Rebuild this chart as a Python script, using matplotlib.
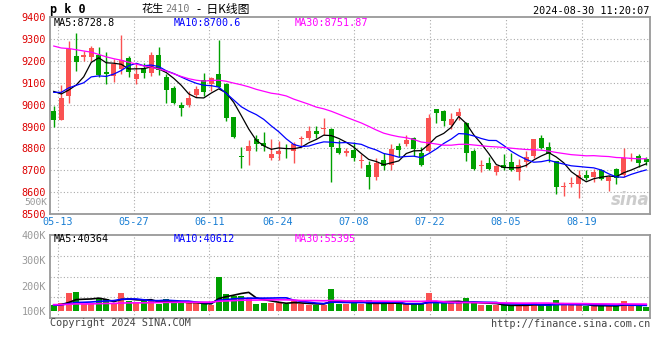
import numpy as np
import matplotlib
matplotlib.use('Agg')
import matplotlib.pyplot as plt

# daily bars, 2024-05-10 .. 2024-08-30 (80 trading days)
opens = [8973, 8930, 9041, 9224, 9216, 9219, 9228, 9149, 9133, 9163,
         9213, 9117, 9168, 9143, 9227, 9125, 9076, 8999, 8999, 9044,
         9114, 9095, 9140, 9095, 8942, 8766, 8786, 8842, 8825, 8757,
         8772, 8802, 8790, 8842, 8846, 8878, 8888, 8889, 8801, 8778,
         8793, 8744, 8725, 8668, 8749, 8726, 8811, 8818, 8848, 8778,
         8787, 8980, 8970, 8909, 8947, 8915, 8786, 8717, 8734, 8691,
         8722, 8737, 8691, 8737, 8763, 8848, 8808, 8741, 8623, 8638,
         8638, 8679, 8668, 8702, 8650, 8705, 8676, 8752, 8767, 8752]
highs = [8996, 9090, 9292, 9330, 9244, 9270, 9265, 9239, 9209, 9318,
         9224, 9186, 9193, 9239, 9265, 9140, 9087, 9011, 9061, 9087,
         9143, 9125, 9295, 9098, 8942, 8808, 8837, 8862, 8874, 8843,
         8833, 8821, 8828, 8856, 8901, 8901, 8938, 8892, 8839, 8802,
         8828, 8772, 8744, 8757, 8778, 8821, 8825, 8859, 8851, 8808,
         8958, 8980, 8976, 8961, 8985, 8919, 8798, 8748, 8760, 8726,
         8775, 8778, 8752, 8790, 8843, 8859, 8828, 8744, 8646, 8671,
         8702, 8699, 8706, 8706, 8679, 8711, 8801, 8780, 8775, 8760]
lows = [8900, 8930, 9006, 9152, 9201, 9201, 9125, 9095, 9102, 9140,
        9125, 9095, 9122, 9133, 9136, 9006, 9003, 8950, 8991, 9037,
        9038, 9061, 9076, 8927, 8848, 8711, 8726, 8786, 8790, 8748,
        8749, 8757, 8732, 8805, 8840, 8848, 8863, 8646, 8775, 8764,
        8744, 8711, 8612, 8656, 8699, 8702, 8760, 8810, 8763, 8717,
        8783, 8918, 8904, 8889, 8932, 8744, 8699, 8691, 8703, 8680,
        8702, 8696, 8656, 8714, 8757, 8795, 8737, 8589, 8580, 8623,
        8571, 8653, 8646, 8653, 8607, 8635, 8668, 8741, 8714, 8722]
closes = [8930, 9031, 9254, 9196, 9228, 9259, 9136, 9140, 9186, 9204,
          9151, 9140, 9143, 9227, 9158, 9067, 9008, 8983, 9031, 9072,
          9060, 9120, 9079, 8939, 8854, 8760, 8810, 8821, 8813, 8775,
          8790, 8796, 8818, 8846, 8878, 8866, 8894, 8808, 8781, 8790,
          8755, 8749, 8671, 8734, 8717, 8798, 8793, 8840, 8795, 8722,
          8939, 8964, 8923, 8935, 8968, 8778, 8706, 8722, 8706, 8719,
          8711, 8699, 8722, 8760, 8843, 8802, 8775, 8623, 8626, 8641,
          8679, 8665, 8694, 8661, 8668, 8664, 8755, 8757, 8734, 8737]
volumes = [124000, 130000, 172000, 176000, 129000, 129000, 146000, 146000, 133000, 172000,
           139000, 130000, 139000, 142000, 129000, 146000, 130000, 130000, 130000, 130000,
           126000, 124000, 234000, 168000, 159000, 159000, 146000, 126000, 133000, 133000,
           133000, 126000, 139000, 126000, 124000, 124000, 124000, 185000, 126000, 126000,
           130000, 126000, 142000, 126000, 126000, 133000, 126000, 126000, 126000, 126000,
           170000, 130000, 130000, 130000, 130000, 150000, 130000, 122000, 122000, 122000,
           124000, 120000, 122000, 122000, 133000, 122000, 122000, 142000, 122000, 122000,
           122000, 120000, 120000, 120000, 120000, 120000, 138000, 120000, 120000, 116000]

# estimated closes/volumes of the 29 sessions before the window (only seed the MAs)
earlier_close = [9300, 9330, 9360, 9400, 9420, 9450, 9470, 9440, 9410, 9430,
                 9400, 9380, 9420, 9390, 9360, 9380, 9350, 9340, 9280, 9180,
                 9030, 9050, 9080, 9110, 8990, 9090, 9164, 9080, 9040]
earlier_volume = [128000, 132000, 125000, 140000, 122000, 118000, 126000, 131000, 124000, 119000,
                  127000, 135000, 121000, 117000, 123000, 129000, 120000, 126000, 133000, 122000,
                  118000, 125000, 130000, 121000, 116000, 124000, 128000, 119000, 122000]

tick_labels = ['05-13', '05-27', '06-11', '06-24', '07-08', '07-22', '08-05', '08-19']
tick_idx = [1, 11, 21, 30, 40, 50, 60, 70]
price_ticks = [8500, 8600, 8700, 8800, 8900, 9000, 9100, 9200, 9300, 9400]
vol_ticks = [100000, 200000, 300000, 400000]
vol_tick_labels = ['100K', '200K', '300K', '400K']

RED = '#fa5252'
GREEN = '#00a000'
GRID = '#aaaaaa'
MONO = 'DejaVu Sans Mono'
W, H = 660, 360


def ma(values, earlier, n):
    s = np.array(earlier + values, dtype=float)
    out = np.convolve(s, np.ones(n) / n, mode='valid')
    return out[-len(values):]


def rect(l, t, r, b):
    return [l / W, 1 - b / H, (r - l) / W, (b - t) / H]


def px(x, y):
    return x / W, 1 - y / H


n = len(closes)
x = np.arange(n)
colors = [RED if c >= o else GREEN for o, c in zip(opens, closes)]
gx = [-0.5 + k * n / (n - 1) for k in tick_idx]   # sina puts date lines on a slightly wider grid

fig = plt.figure(figsize=(6.6, 3.6), dpi=100)
ax = fig.add_axes(rect(50, 17.3, 650, 213.9))
axv = fig.add_axes(rect(50, 235, 650, 318))

# price panel
for i in range(n):
    ax.vlines(x[i], lows[i], highs[i], color=colors[i], lw=1, zorder=3)
body = [max(abs(c - o), 4) for o, c in zip(opens, closes)]
ax.bar(x, body, bottom=np.minimum(opens, closes), width=0.68, color=colors, zorder=3)
ax.plot(x, ma(closes, earlier_close, 5), color='black', lw=0.9, zorder=4)
ax.plot(x, ma(closes, earlier_close, 10), color='#0000ff', lw=0.9, zorder=4)
ax.plot(x, ma(closes, earlier_close, 30), color='#ff00ff', lw=0.9, zorder=4)

ax.set_xlim(-0.5, n - 0.5)
ax.set_ylim(8500, 9400)
ax.set_yticks(price_ticks)
ax.set_yticklabels([str(p) for p in price_ticks], color='#dd0000', family=MONO, fontsize=7.3)
ax.set_xticks(gx)
ax.set_xticklabels(tick_labels, color='#1a7fd4', family=MONO, fontsize=7.3)
ax.tick_params(length=0, pad=3)
ax.tick_params(axis='x', pad=2)
for p in price_ticks[1:-1]:
    ax.axhline(p, color=GRID, lw=0.8, ls=(0, (1, 2)), zorder=1)
for g in gx:
    ax.axvline(g, color=GRID, lw=0.8, ls=(0, (1, 2)), zorder=1)
for s in ax.spines.values():
    s.set_color('#999999')
    s.set_linewidth(1.3)
ax.text(1.0, 0.07, 'sina', transform=ax.transAxes, ha='right', va='center',
        fontsize=12, fontweight='bold', fontstyle='italic', color='#cccccc', zorder=2)

# volume panel
vol_floor = 100000
vol_lo, vol_hi = 72000, 400000
axv.bar(x, np.array(volumes) - vol_floor, bottom=vol_floor, width=0.75, color=colors, zorder=3)
axv.plot(x, ma(volumes, earlier_volume, 5), color='black', lw=1.2, zorder=4)
axv.plot(x, ma(volumes, earlier_volume, 10), color='#0000ff', lw=1.2, zorder=4)
axv.plot(x, ma(volumes, earlier_volume, 30), color='#ff00ff', lw=1.2, zorder=4)
axv.set_xlim(-0.5, n - 0.5)
axv.set_ylim(vol_lo, vol_hi)
axv.set_yticks(vol_ticks)
axv.set_yticklabels(vol_tick_labels, color='#999999', family=MONO, fontsize=7.3)
axv.set_xticks(gx)
axv.set_xticklabels([])
axv.tick_params(length=0, pad=3)
for f in (0.25, 0.5, 0.75):
    axv.axhline(vol_lo + f * (vol_hi - vol_lo), color=GRID, lw=0.8, ls=(0, (1, 2)), zorder=1)
for g in gx:
    axv.axvline(g, color=GRID, lw=0.8, ls=(0, (1, 2)), zorder=1)
for s in axv.spines.values():
    s.set_color('#999999')
    s.set_linewidth(1.3)

# texts
fs = 7.3
fig.text(*px(50, 9), 'p k 0', family=MONO, fontsize=8.5, fontweight='bold', va='center')
cjk = ['Noto Sans CJK SC', 'DejaVu Sans']
fig.text(*px(141, 9), '花生', family=cjk, fontsize=8, va='center')
fig.text(*px(165, 9.5), '2410', family=MONO, fontsize=7.3, color='#777777', va='center')
fig.text(*px(197, 9), '-  日K线图', family=cjk, fontsize=8.5, va='center')
fig.text(*px(649, 11.5), '2024-08-30 11:20:07', family=MONO, fontsize=fs, ha='right', va='center')
fig.text(*px(54, 23.5), 'MA5:8728.8', family=MONO, fontsize=fs, va='center')
fig.text(*px(174, 23.5), 'MA10:8700.6', family=MONO, fontsize=fs, color='#0000ff', va='center')
fig.text(*px(295, 23.5), 'MA30:8751.87', family=MONO, fontsize=fs, color='#ff00ff', va='center')
fig.text(*px(47, 202.5), '500K', family=MONO, fontsize=6.8, color='#999999', ha='right', va='center')
fig.text(*px(54, 239), 'MA5:40364', family=MONO, fontsize=fs, va='center')
fig.text(*px(174, 239), 'MA10:40612', family=MONO, fontsize=fs, color='#0000ff', va='center')
fig.text(*px(295, 239), 'MA30:55395', family=MONO, fontsize=fs, color='#ff00ff', va='center')
fig.text(*px(50, 323), 'Copyright 2024 SINA.COM', family=MONO, fontsize=fs, color='#444444', va='center')
fig.text(*px(650, 324), 'http://finance.sina.com.cn', family=MONO, fontsize=fs, color='#444444',
         ha='right', va='center')

fig.savefig('out.png', dpi=100)
